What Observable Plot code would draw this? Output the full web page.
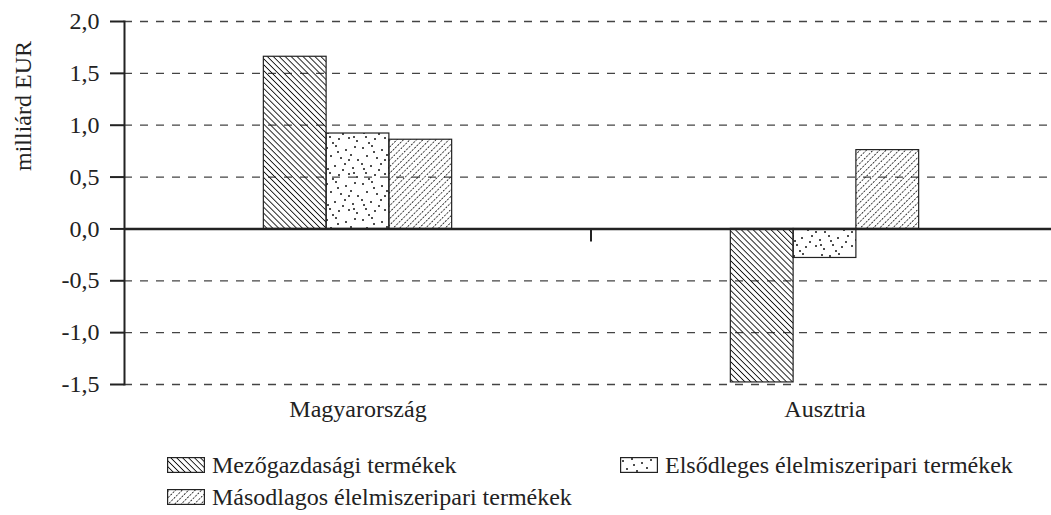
<!DOCTYPE html>
<html>
<head>
<meta charset="utf-8">
<script src="https://cdn.jsdelivr.net/npm/d3@7"></script>
<script src="https://cdn.jsdelivr.net/npm/@observablehq/plot@0.6"></script>
<style>
  html, body { margin: 0; padding: 0; background: #fff; overflow: hidden; width: 1051px; height: 515px; }
  #chart { position: absolute; left: 0; top: 0; }
  #chart svg { max-width: none; }
  #legend {
    position: absolute; left: 167px; top: 452px;
    display: grid; grid-template-columns: 453px auto; row-gap: 6px;
    font-family: "Liberation Serif", "Times New Roman", serif; font-size: 24px; color: #222;
  }
  #legend .item { display: flex; align-items: center; height: 26px; white-space: nowrap; }
  #legend svg { margin-right: 7px; flex: none; }
</style>
</head>
<body>
<svg width="0" height="0" style="position:absolute">
  <defs>
    <pattern id="pat-mezo" patternUnits="userSpaceOnUse" width="4.2" height="10" patternTransform="rotate(-45)">
      <line x1="2.1" y1="0" x2="2.1" y2="10" stroke="#111" stroke-width="0.9"/>
    </pattern>
    <pattern id="pat-masod" patternUnits="userSpaceOnUse" width="4.6" height="10" patternTransform="rotate(45)">
      <line x1="2.3" y1="0" x2="2.3" y2="10" stroke="#111" stroke-width="0.9" stroke-dasharray="2,1.33"/>
    </pattern>
    <pattern id="pat-elso" patternUnits="userSpaceOnUse" width="36" height="36">
      <g fill="#111">
        <circle cx="3" cy="4" r="1"/><circle cx="12" cy="2" r="1"/><circle cx="22" cy="6" r="1"/>
        <circle cx="31" cy="3" r="1"/><circle cx="7" cy="12" r="1"/><circle cx="17" cy="14" r="1"/>
        <circle cx="27" cy="11" r="1"/><circle cx="34" cy="16" r="1"/><circle cx="2" cy="20" r="1"/>
        <circle cx="11" cy="22" r="1"/><circle cx="21" cy="20" r="1"/><circle cx="29" cy="24" r="1"/>
        <circle cx="6" cy="29" r="1"/><circle cx="15" cy="31" r="1"/><circle cx="25" cy="30" r="1"/>
        <circle cx="33" cy="33" r="1"/><circle cx="19" cy="26" r="1"/><circle cx="9" cy="35" r="1"/>
        <circle cx="14" cy="8" r="1"/><circle cx="25" cy="16" r="1"/><circle cx="4" cy="25" r="1"/>
        <circle cx="30" cy="29" r="1"/>
      </g>
    </pattern>
  </defs>
</svg>
<div id="chart"></div>
<div id="legend"></div>
<script>
// ---- data ----
const countries = ["Magyarország", "Ausztria"];
const seriesNames = ["Mezőgazdasági termékek", "Elsődleges élelmiszeripari termékek", "Másodlagos élelmiszeripari termékek"];
const mezogazdasagi = [1.66, -1.48];
const elsodleges = [0.92, -0.28];
const masodlagos = [0.86, 0.76];
const yTicks = [-1.5, -1.0, -0.5, 0.0, 0.5, 1.0, 1.5, 2.0];
const yLabel = "milliárd EUR";
const patterns = ["url(#pat-mezo)", "url(#pat-elso)", "url(#pat-masod)"];

const seriesValues = [mezogazdasagi, elsodleges, masodlagos];
const data = [];
countries.forEach((c, i) => seriesNames.forEach((s, j) => data.push({country: c, series: s, value: seriesValues[j][i]})));

const fmt = d => d.toFixed(1).replace(".", ",");
const font = "'Liberation Serif', 'Times New Roman', serif";

const chart = Plot.plot({
  width: 1058,
  height: 430,
  marginLeft: 124,
  marginRight: 0,
  marginTop: 21,
  marginBottom: 46,
  style: {fontFamily: font, fontSize: "24px", color: "#222", background: "transparent"},
  fx: {domain: countries, paddingInner: 0, paddingOuter: 0, label: null},
  x: {domain: seriesNames, paddingInner: 0, paddingOuter: 2.22, axis: null, round: false},
  y: {domain: [-1.5, 2], axis: null},
  color: {domain: seriesNames, range: patterns},
  marks: [
    Plot.ruleY(yTicks.filter(d => d !== 0), {stroke: "#444", strokeWidth: 1.3, strokeDasharray: "8,8"}),
    Plot.barY(data, {fx: "country", x: "series", y: "value", fill: "series", stroke: "#222", strokeWidth: 1.2}),
    Plot.ruleY([0], {stroke: "#222", strokeWidth: 2.5}),
    Plot.frame({anchor: "left", facet: "super", stroke: "#222", strokeWidth: 2}),
    Plot.axisY({ticks: yTicks, tickFormat: fmt, tickSize: 14, tickPadding: 11, strokeWidth: 2, label: null, fontSize: 24}),
    Plot.axisFx({anchor: "bottom", tickSize: 0, tickPadding: 15, label: null, fontSize: 24}),
    Plot.text([yLabel], {facet: "super", frameAnchor: "left", rotate: -90, dx: -101, dy: -32, fontSize: 24, fill: "#222"})
  ]
});
document.getElementById("chart").appendChild(chart);

// separator tick between the two country groups, placed via Plot's own scales
const fxS = chart.scale("fx"), yS = chart.scale("y");
const sepX = fxS.apply(countries[1]);
const y0 = yS.apply(0);
d3.select(chart).append("line")
  .attr("x1", sepX).attr("x2", sepX).attr("y1", y0).attr("y2", y0 + 13)
  .attr("stroke", "#222").attr("stroke-width", 2);

// legend
const legend = d3.select("#legend");
seriesNames.forEach((s, i) => {
  const item = legend.append("div").attr("class", "item");
  const sw = item.append("svg").attr("width", 38).attr("height", 16);
  sw.append("rect").attr("x", 0.6).attr("y", 0.6).attr("width", 36.8).attr("height", 14.8)
    .attr("fill", patterns[i]).attr("stroke", "#222").attr("stroke-width", 1.2);
  item.append("span").text(s);
});
</script>
</body>
</html>
